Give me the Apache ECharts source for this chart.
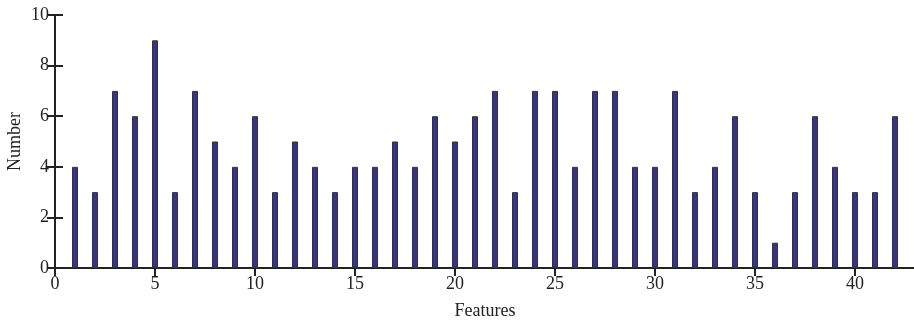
<!DOCTYPE html>
<html><head><meta charset="utf-8">
<script src="https://cdn.jsdelivr.net/npm/echarts@6/dist/echarts.min.js"></script>
<style>html,body{margin:0;padding:0;background:#fff}#c{width:914px;height:321px}</style>
</head><body><div id="c"></div>
<script>
const features = [1,2,3,4,5,6,7,8,9,10,11,12,13,14,15,16,17,18,19,20,21,22,23,24,25,26,27,28,29,30,31,32,33,34,35,36,37,38,39,40,41,42];
const numbers = [4,3,7,6,9,3,7,5,4,6,3,5,4,3,4,4,5,4,6,5,6,7,3,7,7,4,7,7,4,4,7,3,4,6,3,1,3,6,4,3,3,6];
const xTicks = [0,5,10,15,20,25,30,35,40];
const yTicks = [0,2,4,6,8,10];

const font = 'Liberation Serif, DejaVu Serif, serif';
const chart = echarts.init(document.getElementById('c'));
const axisLine = {show:true, lineStyle:{color:'#222', width:2}};
chart.setOption({
  animation:false,
  grid:{left:55, top:15, width:860, height:253, containLabel:false, outerBoundsMode:'none'},
  xAxis:[{
    type:'value', min:0, max:43, interval:5, position:'bottom',
    axisLine:axisLine, splitLine:{show:false},
    axisTick:{show:true, inside:true, length:8, lineStyle:{color:'#222', width:2}},
    axisLabel:{color:'#222', fontFamily:font, fontSize:18, margin:7, showMaxLabel:false,
      formatter:v=>xTicks.includes(v)?String(v):''},
    name:'Features', nameLocation:'middle', nameGap:34, nameMoveOverlap:false,
    nameTextStyle:{color:'#222', fontFamily:font, fontSize:18}
  },{
    type:'value', min:0, max:43, interval:5, position:'top',
    axisLine:axisLine, splitLine:{show:false},
    axisTick:{show:true, inside:true, length:8, lineStyle:{color:'#222', width:2}},
    axisLabel:{show:false}
  }],
  yAxis:[{
    type:'value', min:0, max:10, interval:2, position:'left',
    axisLine:axisLine, splitLine:{show:false},
    axisTick:{show:true, inside:true, length:8, lineStyle:{color:'#222', width:2}},
    axisLabel:{color:'#222', fontFamily:font, fontSize:18, margin:6,
      formatter:v=>yTicks.includes(v)?String(v):''},
    name:'Number', nameLocation:'middle', nameGap:31, nameMoveOverlap:false,
    nameTextStyle:{color:'#222', fontFamily:font, fontSize:18}
  },{
    type:'value', min:0, max:10, interval:2, position:'right',
    axisLine:{show:false}, splitLine:{show:false},
    axisTick:{show:true, inside:true, length:8, lineStyle:{color:'#222', width:2}},
    axisLabel:{show:false}
  }],
  series:[{
    type:'bar', xAxisIndex:0, yAxisIndex:0, barWidth:6,
    data: features.map((f,i)=>[f, numbers[i]]),
    itemStyle:{color:'#38338a', borderColor:'#333', borderWidth:1}
  }]
});
</script></body></html>
